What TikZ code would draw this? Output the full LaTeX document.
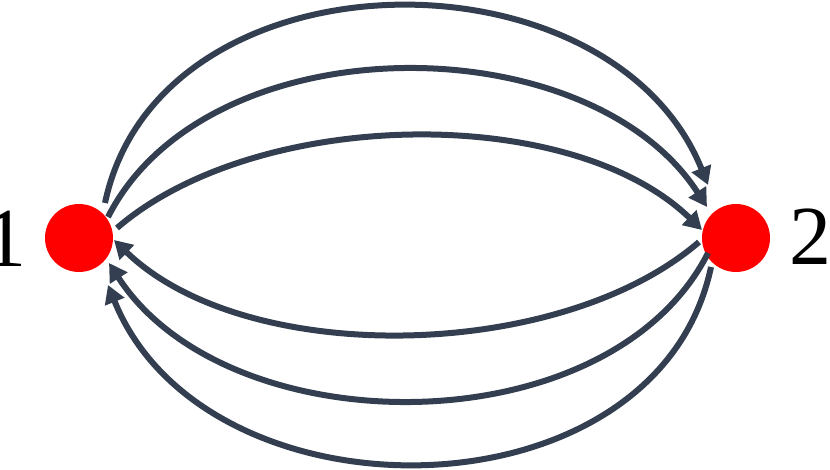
\documentclass[tikz,border=0pt]{standalone}
\usepackage{fontspec}
\setmainfont{Liberation Serif}
\usetikzlibrary{arrows.meta}
\definecolor{arcc}{RGB}{51,63,80}
\begin{document}
\begin{tikzpicture}[x=1pt,y=-1pt,
  vert/.style={circle,fill=red,minimum size=68pt,inner sep=0pt},
  lbl/.style={inner sep=0pt,font=\fontsize{84}{84}\selectfont},
  arc/.style={draw=arcc,line width=6pt,-{Triangle[length=18pt,width=20pt]}}]
\useasboundingbox (0,0) rectangle (830,470);
\node[vert] (n1) at (79,238) {};
\node[vert] (n2) at (736,238) {};
\node[lbl,anchor=base east] (l1) at (27,267) {1};
\node[lbl,anchor=base west] (l2) at (789.5,265) {2};
% endpoints
\coordinate (a1) at (105,203); \coordinate (b1) at (708,185);
\coordinate (a2) at (108,217); \coordinate (b2) at (707,207);
\coordinate (a3) at (117,228); \coordinate (b3) at (702,230);
\coordinate (c1) at (711,267); \coordinate (d1) at (108,285);
\coordinate (c2) at (708,253); \coordinate (d2) at (109,263);
\coordinate (c3) at (699,242); \coordinate (d3) at (114,240);
% top arcs 1 -> 2
\draw[arc] (a1) .. controls (159,-53) and (610,-58) .. (b1);
\draw[arc] (a2) .. controls (207,22) and (588,23) .. (b2);
\draw[arc] (a3) .. controls (256,108) and (570,102) .. (b3);
% bottom arcs 2 -> 1
\draw[arc] (c1) .. controls (657,523) and (206,528) .. (d1);
\draw[arc] (c2) .. controls (609,448) and (228,447) .. (d2);
\draw[arc] (c3) .. controls (560,362) and (246,368) .. (d3);
\end{tikzpicture}
\end{document}
